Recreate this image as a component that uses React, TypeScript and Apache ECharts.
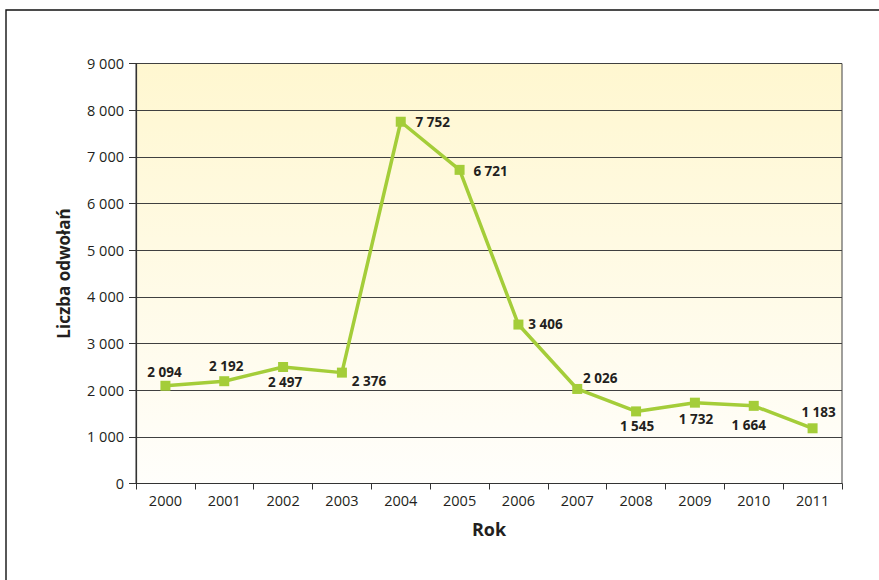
import React, { useEffect, useRef } from "react";
import * as echarts from "echarts";

// Years on the horizontal axis
const years = ["2000", "2001", "2002", "2003", "2004", "2005", "2006", "2007", "2008", "2009", "2010", "2011"];
// Number of appeals per year
const appeals = [2094, 2192, 2497, 2376, 7752, 6721, 3406, 2026, 1545, 1732, 1664, 1183];
// Where each value label sits relative to its point (dx, dy)
const labelOffsets: [number, number][] = [
  [-1, -14], [2, -15], [2, 15], [27, 8], [32, 0], [31, 1],
  [27, -1], [23, -11], [1, 15], [1, 16], [-5, 19], [6, -16],
];

const fmt = (v: number) => String(v).replace(/\B(?=(\d{3})+(?!\d))/g, " ");

const FONT = "'Open Sans', 'Noto Sans', sans-serif";
const TEXT = "#231f20";

export default function App() {
  const ref = useRef<HTMLDivElement>(null);

  useEffect(() => {
    if (!ref.current) return;
    const chart = echarts.init(ref.current, undefined, { renderer: "svg" });
    chart.setOption({
      animation: false,
      backgroundColor: "#ffffff",
      textStyle: { fontFamily: FONT },
      graphic: [
        {
          type: "rect",
          shape: { x: 6, y: 10, width: 900, height: 600 },
          style: { fill: "none", stroke: "#111111", lineWidth: 1.4 },
          silent: true,
        },
      ],
      grid: {
        left: 136,
        top: 63.5,
        width: 706,
        height: 420,
        show: true,
        borderColor: "#404040",
        borderWidth: 1,
        backgroundColor: new echarts.graphic.LinearGradient(0, 0, 0, 1, [
          { offset: 0, color: "#fff7d0" },
          { offset: 1, color: "#fffefb" },
        ]),
      },
      xAxis: {
        type: "category",
        data: years,
        boundaryGap: true,
        name: "Rok",
        nameLocation: "middle",
        nameGap: 36,
        nameTextStyle: { fontFamily: FONT, fontSize: 18, fontWeight: "bold", color: TEXT },
        axisLine: { lineStyle: { color: "#333333", width: 1.2 } },
        axisTick: { show: true, length: 6, alignWithLabel: false, lineStyle: { color: "#333333" } },
        axisLabel: { fontFamily: FONT, fontSize: 14.5, color: TEXT, margin: 9 },
        splitLine: { show: false },
      },
      yAxis: {
        type: "value",
        min: 0,
        max: 9000,
        interval: 1000,
        name: "Liczba odwołań",
        nameLocation: "middle",
        nameGap: 64,
        nameRotate: 90,
        nameTextStyle: { fontFamily: FONT, fontSize: 17, fontWeight: "bold", color: TEXT },
        axisLine: { show: true, lineStyle: { color: "#333333", width: 1.2 } },
        axisTick: { show: true, length: 7, lineStyle: { color: "#333333" } },
        axisLabel: { fontFamily: FONT, fontSize: 14.5, color: TEXT, margin: 12, formatter: (v: number) => fmt(v) },
        splitLine: { show: true, lineStyle: { color: "#404040", width: 1 } },
      },
      series: [
        {
          type: "line",
          data: appeals.map((v, i) => ({
            value: v,
            label: {
              show: true,
              position: "inside",
              offset: labelOffsets[i],
              align: "center",
              verticalAlign: "middle",
            },
          })),
          symbol: "rect",
          symbolSize: 10,
          itemStyle: { color: "#a4cd39" },
          lineStyle: { color: "#a4cd39", width: 3.5 },
          label: {
            show: true,
            fontFamily: FONT,
            fontSize: 13.5,
            fontWeight: "bold",
            color: TEXT,
            formatter: (p: any) => fmt(p.value),
          },
          z: 3,
        },
      ],
    });
    return () => chart.dispose();
  }, []);

  return <div ref={ref} style={{ position: "fixed", left: 0, top: 0, width: 879, height: 580 }} />;
}
